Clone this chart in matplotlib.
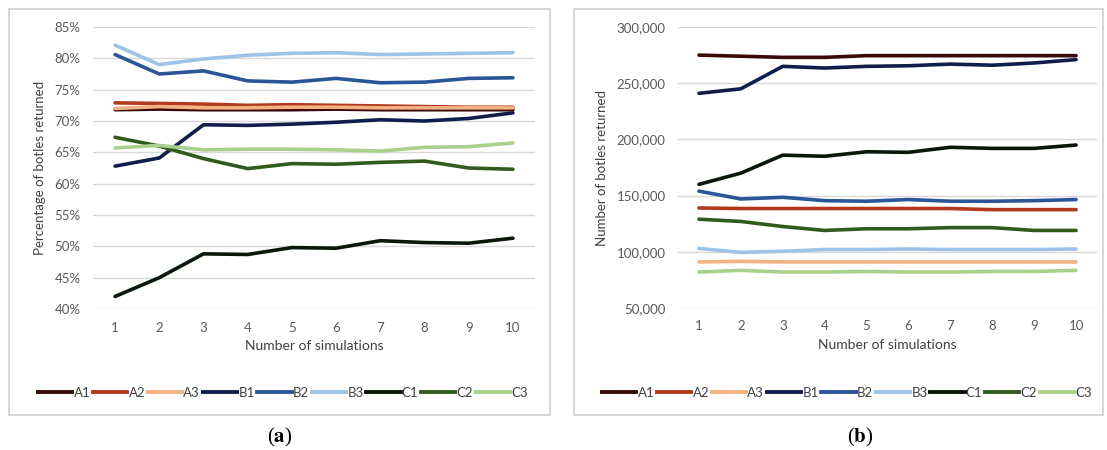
#!/usr/bin/env python3

import matplotlib
matplotlib.use("Agg")
import matplotlib.pyplot as plt
from matplotlib.lines import Line2D
from matplotlib.patches import Rectangle
from matplotlib.ticker import FuncFormatter

# Series values
simulations = [1, 2, 3, 4, 5, 6, 7, 8, 9, 10]
series_names = ["A1", "A2", "A3", "B1", "B2", "B3", "C1", "C2", "C3"]

# (a) percentage of bottles returned
pct_A1 = [71.8, 71.9, 71.8, 71.8, 71.8, 71.9, 71.8, 71.8, 71.8, 71.8]
pct_A2 = [72.9, 72.8, 72.7, 72.5, 72.6, 72.5, 72.4, 72.3, 72.2, 72.2]
pct_A3 = [72.0, 72.3, 72.1, 72.1, 72.2, 72.2, 72.1, 72.1, 72.1, 72.1]
pct_B1 = [62.8, 64.1, 69.4, 69.3, 69.5, 69.8, 70.2, 70.0, 70.4, 71.3]
pct_B2 = [80.6, 77.5, 78.0, 76.4, 76.2, 76.8, 76.1, 76.2, 76.8, 76.9]
pct_B3 = [82.1, 79.0, 79.9, 80.5, 80.8, 80.9, 80.6, 80.7, 80.8, 80.9]
pct_C1 = [42.0, 45.0, 48.8, 48.7, 49.8, 49.7, 50.9, 50.6, 50.5, 51.3]
pct_C2 = [67.4, 66.0, 64.0, 62.4, 63.2, 63.1, 63.4, 63.6, 62.5, 62.3]
pct_C3 = [65.7, 66.1, 65.4, 65.5, 65.5, 65.4, 65.2, 65.8, 65.9, 66.5]

# (b) number of bottles returned
num_A1 = [275000, 274000, 273000, 273000, 274500, 274500, 274500, 274500, 274500, 274500]
num_A2 = [139000, 138500, 138500, 138500, 138500, 138500, 138500, 137500, 137500, 137500]
num_A3 = [91000, 91500, 91000, 91000, 91000, 91000, 91000, 91000, 91000, 91000]
num_B1 = [241000, 245000, 265000, 263500, 265000, 265500, 267000, 266000, 268000, 271000]
num_B2 = [154000, 147000, 148500, 145500, 145000, 146500, 145000, 145000, 145500, 146500]
num_B3 = [103000, 99500, 100500, 102000, 102000, 102500, 102000, 102000, 102000, 102500]
num_C1 = [160000, 170000, 186000, 185000, 189000, 188500, 193000, 192000, 192000, 195000]
num_C2 = [129000, 127000, 122500, 119000, 120500, 120500, 121500, 121500, 119000, 119000]
num_C3 = [82000, 83500, 82000, 82000, 82500, 82000, 82000, 82500, 82500, 83500]

colors = ["#3a0a0a", "#b3391c", "#f4b183", "#101d4a", "#2b5597",
          "#9dc3e6", "#0a170a", "#2f5c1c", "#a9d18e"]

W, H = 1107, 450
plt.rcParams["font.family"] = ["Lato", "DejaVu Sans"]
plt.rcParams["mathtext.fontset"] = "stix"

fig = plt.figure(figsize=(W / 100, H / 100), dpi=100)


def px_axes(x0, y0, x1, y1):
    # axes placed by pixel box (top-left origin)
    return fig.add_axes([x0 / W, 1 - y1 / H, (x1 - x0) / W, (y1 - y0) / H])


def panel_border(x0, y0, x1, y1):
    fig.patches.append(Rectangle((x0 / W, 1 - y1 / H), (x1 - x0) / W, (y1 - y0) / H,
                                 transform=fig.transFigure, fill=False,
                                 edgecolor="#d0d0d0", linewidth=1.2))


def style_axes(ax, ylabel):
    for s in ax.spines.values():
        s.set_visible(False)
    ax.grid(axis="y", color="#d9d9d9", linewidth=1.0)
    ax.set_axisbelow(True)
    ax.tick_params(length=0, labelsize=9.5, colors="#595959", pad=9)
    ax.set_xlim(0.5, 10.5)
    ax.set_xticks(simulations)
    ax.set_xlabel("Number of simulations", fontsize=10, color="#404040", labelpad=5)
    ax.set_ylabel(ylabel, fontsize=9.5, color="#404040", labelpad=6)


def add_legend(center_x, y):
    handles = [Line2D([0], [0], color=c, lw=2.8) for c in colors]
    fig.legend(handles, series_names, loc="center", ncol=9,
               bbox_to_anchor=(center_x / W, 1 - y / H), frameon=False,
               fontsize=9.5, labelcolor="#404040", handlelength=2.6,
               handletextpad=0.1, columnspacing=0.2)


# Panel (a)
panel_border(9, 9, 550, 415)
ax_a = px_axes(93, 27, 535, 309)
for name, vals, c in zip(series_names,
                         [pct_A1, pct_A2, pct_A3, pct_B1, pct_B2, pct_B3, pct_C1, pct_C2, pct_C3],
                         colors):
    ax_a.plot(simulations, vals, color=c, lw=2.6, label=name, solid_capstyle="round")
ax_a.set_ylim(40, 85)
ax_a.set_yticks(range(40, 86, 5))
ax_a.yaxis.set_major_formatter(FuncFormatter(lambda v, p: "{:d}%".format(int(v))))
style_axes(ax_a, "Percentage of botles returned")
add_legend(283, 393)

# Panel (b)
panel_border(574, 9, 1103, 415)
ax_b = px_axes(678, 27, 1097, 308)
for name, vals, c in zip(series_names,
                         [num_A1, num_A2, num_A3, num_B1, num_B2, num_B3, num_C1, num_C2, num_C3],
                         colors):
    ax_b.plot(simulations, vals, color=c, lw=2.6, label=name, solid_capstyle="round")
ax_b.set_ylim(50000, 300000)
ax_b.set_yticks(range(50000, 300001, 50000))
ax_b.yaxis.set_major_formatter(FuncFormatter(lambda v, p: "{:,d}".format(int(v))))
style_axes(ax_b, "Number of botles returned")
add_legend(847, 393)

# Sub-figure captions
fig.text(280 / W, 1 - 437 / H, r"($\mathbf{a}$)", ha="center", va="center",
         fontsize=15, family="Liberation Serif")
fig.text(860 / W, 1 - 437 / H, r"($\mathbf{b}$)", ha="center", va="center",
         fontsize=15, family="Liberation Serif")

fig.savefig("out.png", dpi=100)
